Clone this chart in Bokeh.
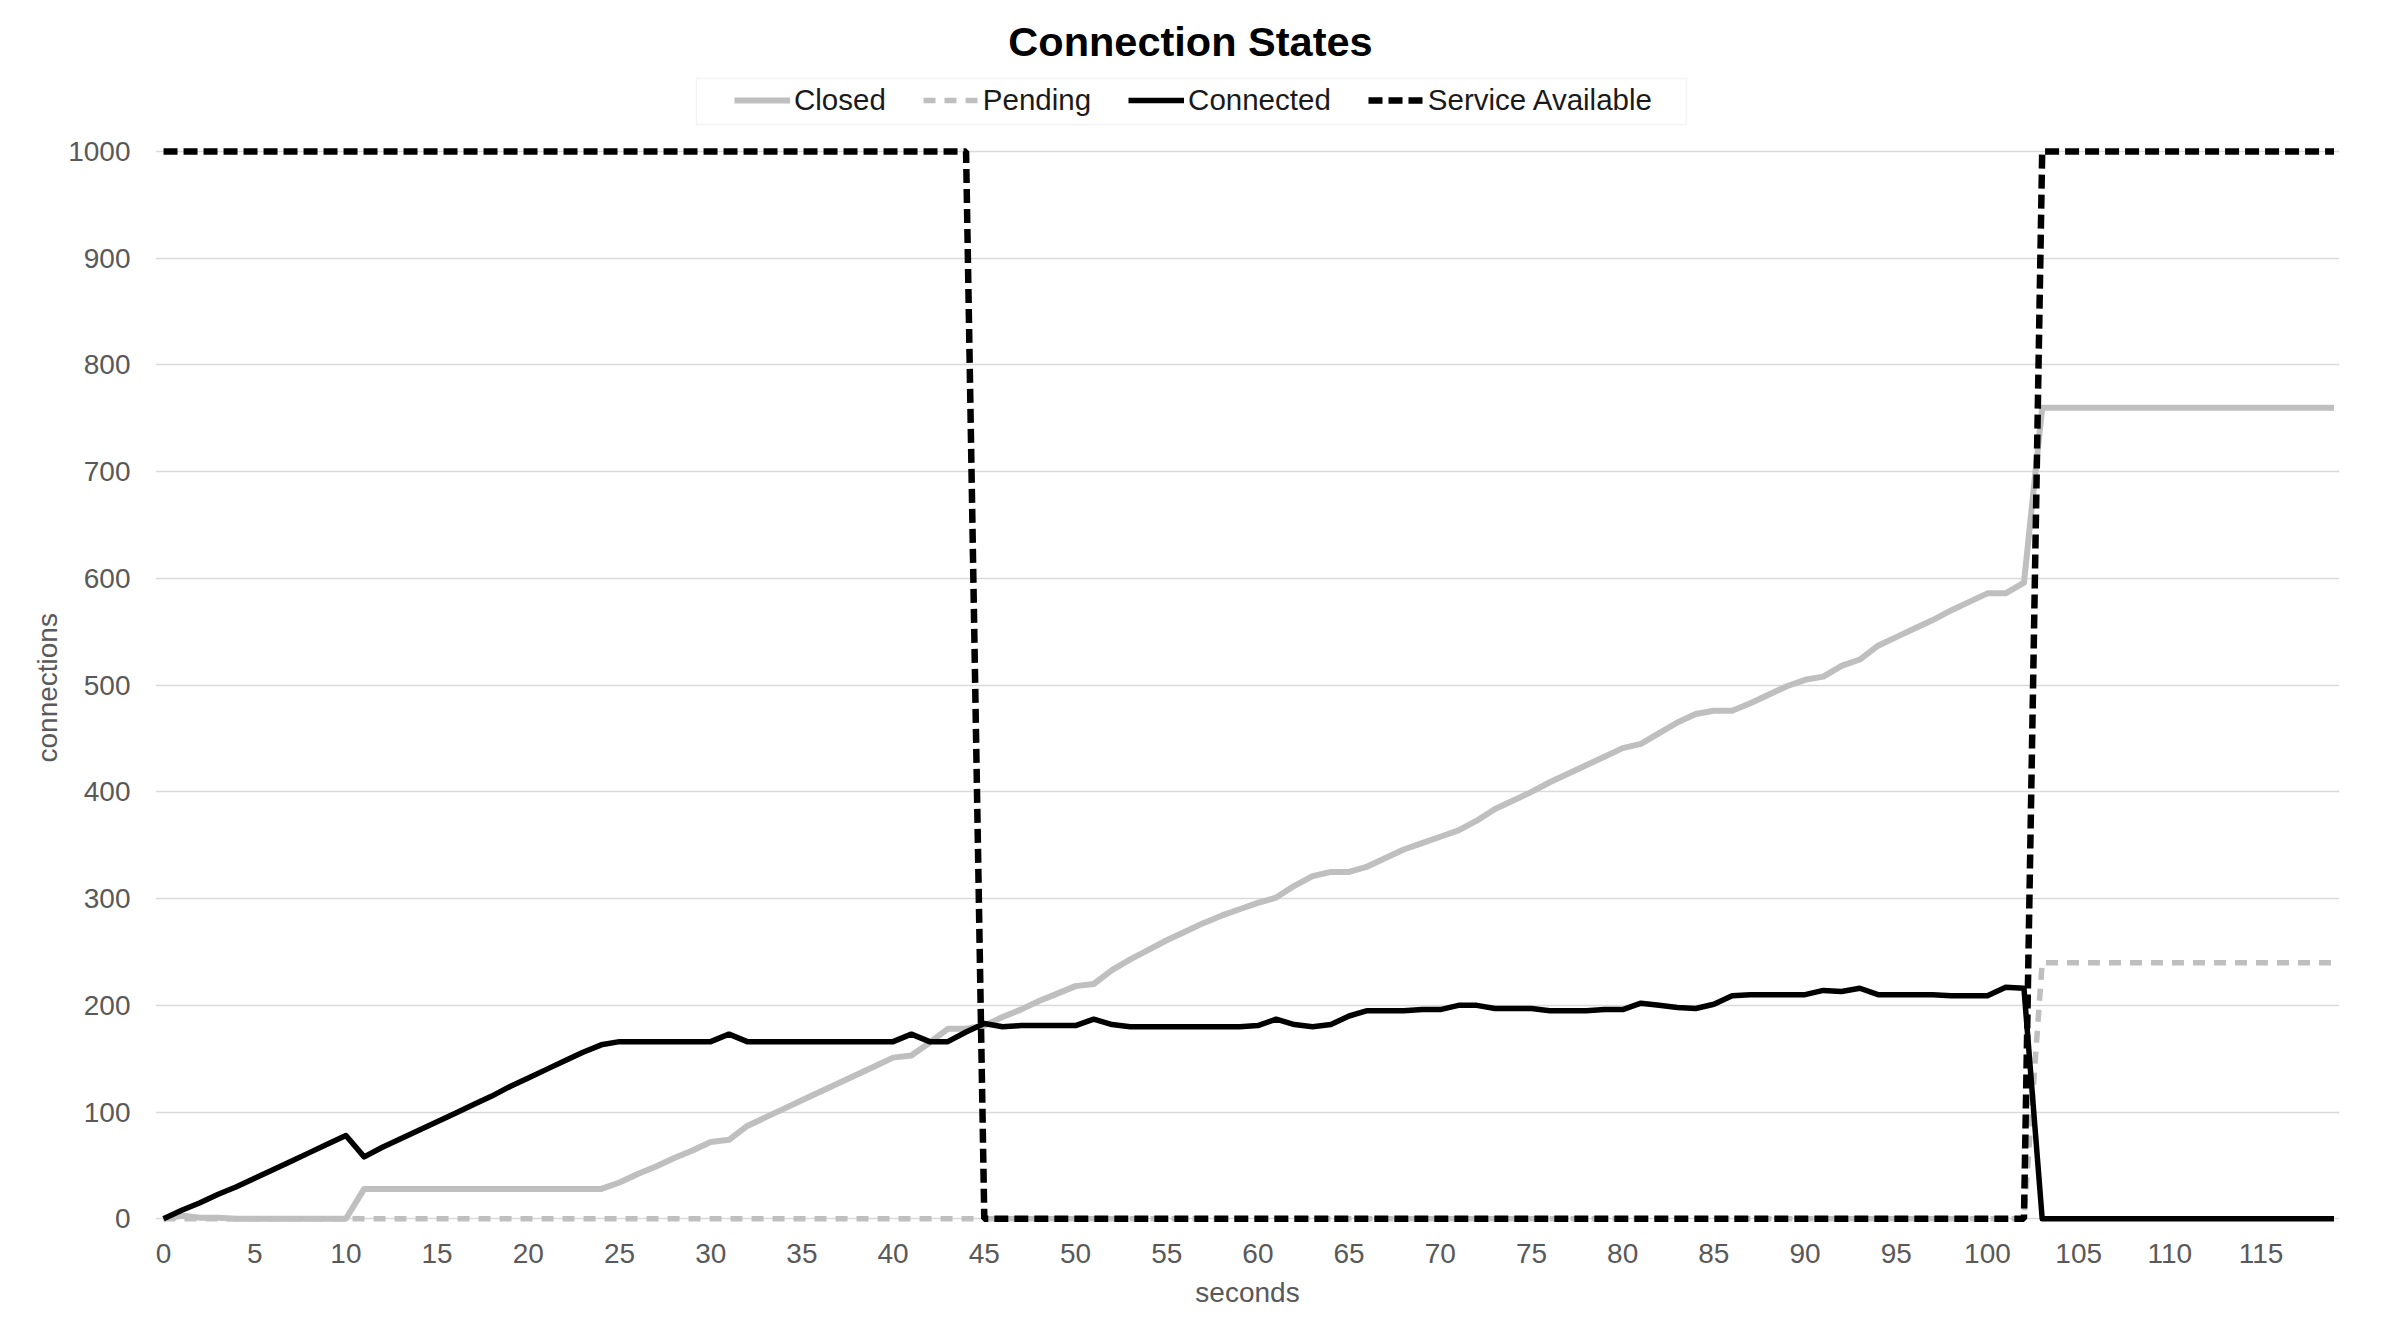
from bokeh.plotting import figure
from bokeh.models import FixedTicker, Legend, LegendItem, Label, BoxAnnotation, Range1d, Title
from bokeh.embed import file_html
from bokeh.resources import INLINE

FONT = "Liberation Sans"

seconds = list(range(120))

closed = [0, 3, 1, 1, 0, 0, 0, 0, 0, 0,
          0, 28, 28, 28, 28, 28, 28, 28, 28, 28,
          28, 28, 28, 28, 28, 34, 42, 49, 57, 64,
          72, 74, 87, 95, 103, 111, 119, 127, 135, 143,
          151, 153, 165, 178, 178, 181, 189, 196, 204, 211,
          218, 220, 233, 243, 252, 261, 269, 277, 284, 290,
          296, 301, 312, 321, 325, 325, 330, 338, 346, 352,
          358, 364, 373, 384, 392, 400, 409, 417, 425, 433,
          441, 445, 455, 465, 473, 476, 476, 483, 491, 499,
          505, 508, 518, 524, 537, 545, 553, 561, 570, 578,
          586, 586, 596, 760, 760, 760, 760, 760, 760, 760,
          760, 760, 760, 760, 760, 760, 760, 760, 760, 760]

pending = [0, 0, 0, 0, 0, 0, 0, 0, 0, 0,
           0, 0, 0, 0, 0, 0, 0, 0, 0, 0,
           0, 0, 0, 0, 0, 0, 0, 0, 0, 0,
           0, 0, 0, 0, 0, 0, 0, 0, 0, 0,
           0, 0, 0, 0, 0, 0, 0, 0, 0, 0,
           0, 0, 0, 0, 0, 0, 0, 0, 0, 0,
           0, 0, 0, 0, 0, 0, 0, 0, 0, 0,
           0, 0, 0, 0, 0, 0, 0, 0, 0, 0,
           0, 0, 0, 0, 0, 0, 0, 0, 0, 0,
           0, 0, 0, 0, 0, 0, 0, 0, 0, 0,
           0, 0, 0, 240, 240, 240, 240, 240, 240, 240,
           240, 240, 240, 240, 240, 240, 240, 240, 240, 240]

connected = [0, 8, 15, 23, 30, 38, 46, 54, 62, 70,
             78, 58, 67, 75, 83, 91, 99, 107, 115, 124,
             132, 140, 148, 156, 163, 166, 166, 166, 166, 166,
             166, 173, 166, 166, 166, 166, 166, 166, 166, 166,
             166, 173, 166, 166, 175, 183, 180, 181, 181, 181,
             181, 187, 182, 180, 180, 180, 180, 180, 180, 180,
             181, 187, 182, 180, 182, 190, 195, 195, 195, 196,
             196, 200, 200, 197, 197, 197, 195, 195, 195, 196,
             196, 202, 200, 198, 197, 201, 209, 210, 210, 210,
             210, 214, 213, 216, 210, 210, 210, 210, 209, 209,
             209, 217, 216, 0, 0, 0, 0, 0, 0, 0,
             0, 0, 0, 0, 0, 0, 0, 0, 0, 0]

service = [1000, 1000, 1000, 1000, 1000, 1000, 1000, 1000, 1000, 1000,
           1000, 1000, 1000, 1000, 1000, 1000, 1000, 1000, 1000, 1000,
           1000, 1000, 1000, 1000, 1000, 1000, 1000, 1000, 1000, 1000,
           1000, 1000, 1000, 1000, 1000, 1000, 1000, 1000, 1000, 1000,
           1000, 1000, 1000, 1000, 1000, 0, 0, 0, 0, 0,
           0, 0, 0, 0, 0, 0, 0, 0, 0, 0,
           0, 0, 0, 0, 0, 0, 0, 0, 0, 0,
           0, 0, 0, 0, 0, 0, 0, 0, 0, 0,
           0, 0, 0, 0, 0, 0, 0, 0, 0, 0,
           0, 0, 0, 0, 0, 0, 0, 0, 0, 0,
           0, 0, 0, 1000, 1000, 1000, 1000, 1000, 1000, 1000,
           1000, 1000, 1000, 1000, 1000, 1000, 1000, 1000, 1000, 1000]

series_names = ["Closed", "Pending", "Connected", "Service Available"]
y_ticks = list(range(0, 1001, 100))
x_ticks = list(range(0, 116, 5))

W, H = 2366, 1319
MB_L, MB_R, MB_T, MB_B = 155, 27, 2, 92
FW = W - MB_L - MB_R
FH = H - MB_T - MB_B

p = figure(width=W, height=H, output_backend="svg", toolbar_location=None,
           title=None,
           x_range=Range1d(-0.44, 119.3), y_range=Range1d(-8.15, 1139.6),
           min_border_left=MB_L, min_border_right=MB_R,
           min_border_top=MB_T, min_border_bottom=MB_B)
p.outline_line_color = None
p.background_fill_color = "white"
p.border_fill_color = "white"
p.xgrid.visible = False
p.ygrid.grid_line_color = "#D9D9D9"
p.ygrid.grid_line_width = 1.5
p.yaxis.ticker = FixedTicker(ticks=y_ticks)
p.xaxis.ticker = FixedTicker(ticks=x_ticks)

for ax in (p.xaxis, p.yaxis):
    ax.axis_line_color = None
    ax.major_tick_line_color = None
    ax.minor_tick_line_color = None
    ax.major_tick_out = 0
    ax.major_tick_in = 0
    ax.minor_tick_out = 0
    ax.major_label_text_font = FONT
    ax.major_label_text_font_size = "28px"
    ax.major_label_text_color = "#595959"
    ax.axis_label_text_font = FONT
    ax.axis_label_text_font_size = "28px"
    ax.axis_label_text_font_style = "normal"
    ax.axis_label_text_color = "#595959"

p.xaxis.axis_label = "seconds"
p.xaxis.major_label_standoff = 16
p.xaxis.axis_label_standoff = 11
p.yaxis.major_label_standoff = 25

y_title = Title(text="connections", align="left", offset=465, standoff=6,
                text_font=FONT, text_font_size="28px", text_font_style="normal",
                text_color="#595959")
p.add_layout(y_title, "left")

r_closed = p.line(seconds, closed, line_color="#BFBFBF", line_width=6, line_join="round")
r_pending = p.line(seconds, pending, line_color="#BFBFBF", line_width=5.5, line_dash="12 9")
r_connected = p.line(seconds, connected, line_color="black", line_width=5.5, line_join="round")
r_service = p.line(seconds, service, line_color="black", line_width=6.5, line_dash="14 6")

box = BoxAnnotation(left=541, right=1531, bottom=FH - 124 + MB_T, top=FH - 78 + MB_T,
                    left_units="screen", right_units="screen",
                    bottom_units="screen", top_units="screen",
                    fill_color="white", fill_alpha=1.0,
                    line_color="#D9D9D9", line_width=1.5, level="annotation")
p.add_layout(box)

legend = Legend(items=[LegendItem(label=n, renderers=[r]) for n, r in
                       zip(series_names, [r_closed, r_pending, r_connected, r_service])],
                orientation="horizontal", location=(579, FH - 117 + MB_T),
                border_line_color=None, background_fill_alpha=0.0,
                padding=6, spacing=37, glyph_width=56, label_standoff=4,
                label_text_font=FONT, label_text_font_size="29.5px",
                label_text_color="#1a1a1a", margin=0)
p.add_layout(legend, "center")

title = Label(x=1035, y=FH - 41 + MB_T, x_units="screen", y_units="screen",
              text="Connection States", text_font=FONT, text_font_size="41.5px",
              text_font_style="bold", text_color="black",
              text_align="center", text_baseline="middle")
p.add_layout(title)

open("out.html", "w").write(file_html(p, INLINE))
